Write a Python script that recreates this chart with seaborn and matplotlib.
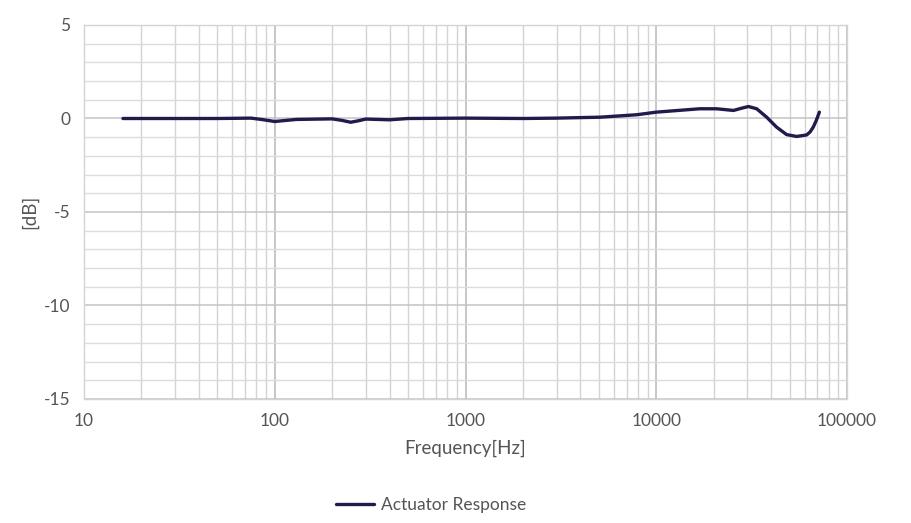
import numpy as np
import pandas as pd
import matplotlib
matplotlib.use("Agg")
import matplotlib.pyplot as plt
import seaborn as sns
from matplotlib.ticker import LogLocator, FixedLocator, MultipleLocator, NullFormatter

# response
freq_hz = [16, 30, 50, 75, 85, 100, 115, 130, 200, 225, 250, 275, 300, 400, 500, 1000,
           2000, 3000, 5070, 7890, 10000, 16900, 20700, 25400, 28000, 30400, 33600,
           37900, 42700, 48200, 54400, 61400, 64000, 66500, 69000, 71600]
gain_db = [0.0, 0.0, 0.0, 0.02, -0.05, -0.16, -0.1, -0.05, -0.02, -0.1, -0.2, -0.12,
           -0.03, -0.07, 0.0, 0.02, 0.0, 0.02, 0.07, 0.2, 0.34, 0.52, 0.52, 0.43, 0.55,
           0.64, 0.52, 0.07, -0.46, -0.86, -0.96, -0.88, -0.72, -0.46, -0.1, 0.34]
x_ticks = [10, 100, 1000, 10000, 100000]
y_ticks = [-15, -10, -5, 0, 5]

df = pd.DataFrame({"Frequency": freq_hz, "dB": gain_db, "series": "Actuator Response"})

sns.set_style("white")
plt.rcParams["font.family"] = ["Lato", "DejaVu Sans"]

fig = plt.figure(figsize=(9.11, 5.23), dpi=100)
ax = fig.add_axes([0.0922, 0.2371, 0.8376, 0.7151])

sns.lineplot(data=df, x="Frequency", y="dB", hue="series", palette=["#1f1a4f"],
             linewidth=2.4, ax=ax, legend=True)

ax.set_xscale("log")
ax.set_xlim(10, 100000)
ax.set_ylim(-15, 5)
ax.xaxis.set_major_locator(FixedLocator(x_ticks))
ax.set_xticklabels([str(t) for t in x_ticks])
ax.xaxis.set_minor_locator(LogLocator(base=10, subs=np.arange(2, 10)))
ax.xaxis.set_minor_formatter(NullFormatter())
ax.yaxis.set_major_locator(FixedLocator(y_ticks))
ax.set_yticklabels([str(t) for t in y_ticks])
ax.yaxis.set_minor_locator(MultipleLocator(1))

ax.grid(True, which="major", axis="x", color="#b8b8b8", linewidth=1.1)
ax.grid(True, which="minor", axis="x", color="#d4d4d4", linewidth=1.0)
ax.grid(True, which="major", axis="y", color="#c4c4c4", linewidth=1.1)
ax.grid(True, which="minor", axis="y", color="#dcdcdc", linewidth=1.0)
ax.set_axisbelow(True)
ax.tick_params(which="both", length=0, labelsize=12.5, colors="#555555", pad=10)

for s in ax.spines.values():
    s.set_color("#d4d4d4")
    s.set_linewidth(1.0)

ax.set_xlabel("Frequency[Hz]", fontsize=13.5, color="#555555", labelpad=8)
ax.set_ylabel("[dB]", fontsize=13.5, color="#555555", labelpad=4)

ax.legend(loc="upper center", bbox_to_anchor=(0.455, -0.22), frameon=False,
          fontsize=12.5, labelcolor="#555555", handlelength=2.2, handletextpad=0.4)

plt.savefig("out.png", dpi=100)
